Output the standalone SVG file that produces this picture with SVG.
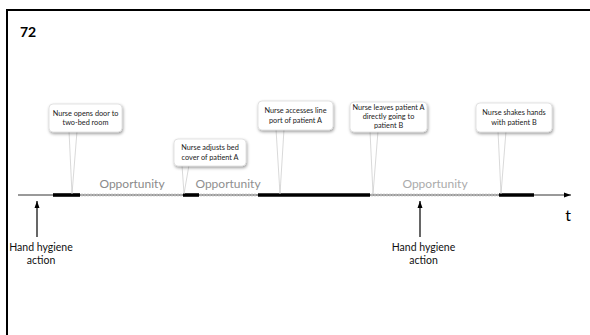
<svg xmlns="http://www.w3.org/2000/svg" width="590" height="335" viewBox="0 0 590 335">
<style>
.cbox{fill:#fff;stroke:#d0d0d0;stroke-width:0.6;filter:url(#sh)}
.ptr{fill:#fff;stroke:#c0c0c0;stroke-width:0.6}
.ct{font-family:Lato,"Open Sans",sans-serif;font-size:7.3px;fill:#1a1a1a;text-anchor:middle}
.op{font-family:Lato,"Open Sans",sans-serif;font-size:12px;fill:#9a9a9a;text-anchor:middle}
.hh{font-family:Lato,"Open Sans",sans-serif;font-size:10.5px;fill:#111;text-anchor:middle}
.blk{stroke:#000;stroke-width:3.6}
.opp{stroke:#b0b0b0;stroke-width:2.4;stroke-dasharray:2 1}
</style>
<defs>
<filter id="sh" x="-20%" y="-20%" width="140%" height="160%">
<feDropShadow dx="0.8" dy="1.6" stdDeviation="1.4" flood-color="#000" flood-opacity="0.4"/>
</filter>
<marker id="ah" markerWidth="8" markerHeight="8" refX="7" refY="4" orient="auto" markerUnits="userSpaceOnUse">
<path d="M0,1.5 L7,4 L0,6.5 Z" fill="#000"/>
</marker>
</defs>
<rect width="590" height="335" fill="#fff"/>
<rect x="7" y="10" width="600" height="340" fill="none" stroke="#000" stroke-width="2"/>
<text x="20" y="37" font-family="Lato,'Open Sans',sans-serif" font-size="14" font-weight="bold" fill="#000">72</text>

<g id="connectors">
<line x1="18" y1="195" x2="571" y2="195" stroke="#000" stroke-width="0.8" marker-end="url(#ah)"/>
<line class="blk" x1="53" y1="195" x2="80" y2="195"/>
<line class="opp" x1="81" y1="195" x2="182" y2="195"/>
<line class="blk" x1="183" y1="195" x2="199" y2="195"/>
<line class="opp" x1="200" y1="195" x2="257" y2="195"/>
<line class="blk" x1="258" y1="195" x2="370" y2="195"/>
<line class="opp" x1="371" y1="195" x2="498" y2="195"/>
<line class="blk" x1="499" y1="195" x2="534" y2="195"/>
<line x1="37" y1="237" x2="37" y2="201" stroke="#000" stroke-width="1.2" marker-end="url(#ah)"/>
<line x1="420" y1="237" x2="420" y2="201" stroke="#000" stroke-width="1.2" marker-end="url(#ah)"/>
</g>

<text class="op" x="132" y="188" fill="#8a8a8a" style="fill:#8a8a8a">Opportunity</text>
<text class="op" x="228" y="188" style="fill:#8f8f8f">Opportunity</text>
<text class="op" x="435" y="188" style="fill:#ababab">Opportunity</text>

<g id="c1">
<polygon class="ptr" points="69,131 77,131 72,194"/>
<rect class="cbox" x="49" y="104" width="73" height="28" rx="4"/>
<text class="ct" x="85.5" y="115.5">Nurse opens door to</text>
<text class="ct" x="85.5" y="125">two-bed room</text>
</g>
<g id="c2">
<polygon class="ptr" points="182,165 189,165 184,194"/>
<rect class="cbox" x="174" y="139" width="72" height="27" rx="4"/>
<text class="ct" x="210" y="150">Nurse adjusts bed</text>
<text class="ct" x="210" y="160">cover of patient A</text>
</g>
<g id="c3">
<polygon class="ptr" points="276,129 284,129 280,194"/>
<rect class="cbox" x="258" y="101" width="75" height="29" rx="4"/>
<text class="ct" x="295.5" y="113">Nurse accesses line</text>
<text class="ct" x="295.5" y="123">port of patient A</text>
</g>
<g id="c4">
<polygon class="ptr" points="370,131 378,131 373,194"/>
<rect class="cbox" x="350" y="102" width="77" height="30" rx="4"/>
<text class="ct" x="388.5" y="110">Nurse leaves patient A</text>
<text class="ct" x="388.5" y="119">directly going to</text>
<text class="ct" x="388.5" y="128">patient B</text>
</g>
<g id="c5">
<polygon class="ptr" points="498,131 506,131 501,194"/>
<rect class="cbox" x="476" y="103" width="76" height="29" rx="4"/>
<text class="ct" x="514" y="115">Nurse shakes hands</text>
<text class="ct" x="514" y="125">with patient B</text>
</g>

<text x="568" y="221" font-family="Lato,'Open Sans',sans-serif" font-size="16" fill="#000" text-anchor="middle">t</text>

<g id="hh1">
<text class="hh" x="41" y="251">Hand hygiene</text>
<text class="hh" x="41" y="264">action</text>
</g>
<g id="hh2">
<text class="hh" x="423.5" y="251">Hand hygiene</text>
<text class="hh" x="423.5" y="264">action</text>
</g>
</svg>
